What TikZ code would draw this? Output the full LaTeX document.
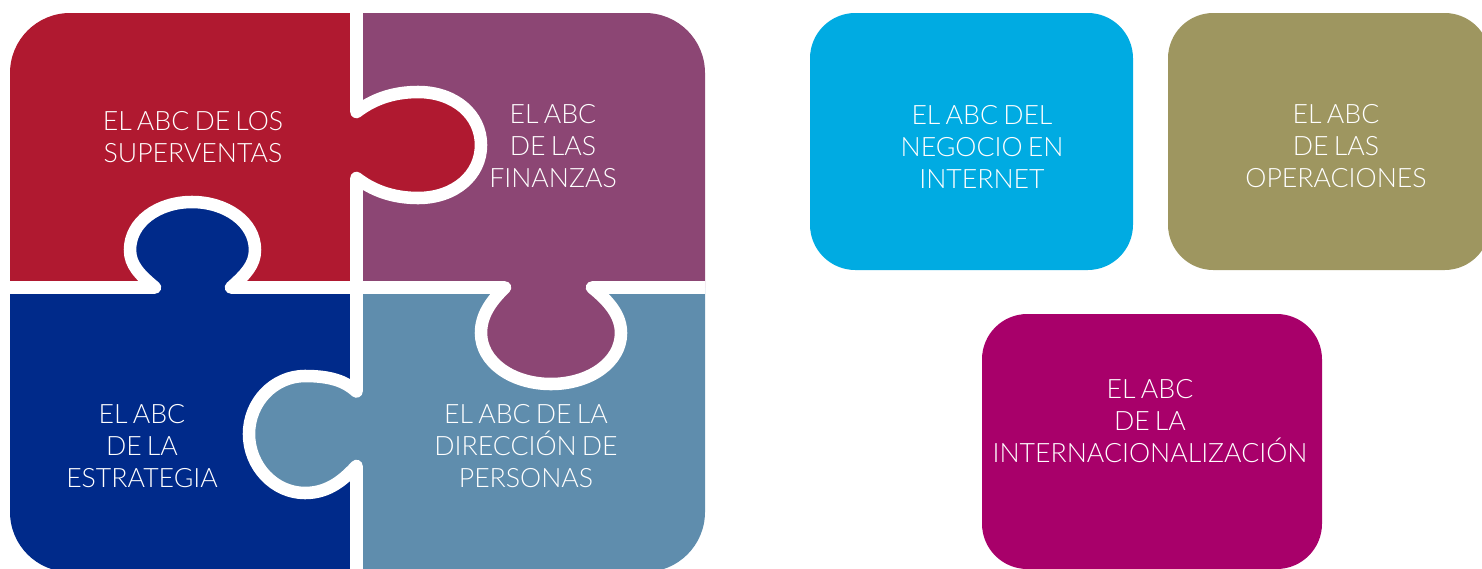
\documentclass[tikz,border=0pt]{standalone}
\usepackage{fontspec}
\setmainfont{Lato}[UprightFont=* Light, WordSpace=0.72]
\definecolor{cRed}{RGB}{176,25,48}
\definecolor{cPurple}{RGB}{140,70,116}
\definecolor{cNavy}{RGB}{0,42,138}
\definecolor{cSteel}{RGB}{95,141,173}
\definecolor{cCyan}{RGB}{0,171,226}
\definecolor{cOlive}{RGB}{158,150,96}
\definecolor{cMagenta}{RGB}{168,0,106}
\newcommand\kRed{.. controls (372,100) and (392,92) .. (418,92) .. controls (455,92) and (481,115) .. (481,145) .. controls (481,175) and (455,198) .. (418,198) .. controls (392,198) and (372,190) .. (356.5,178)}
\newcommand\kNavy{.. controls (140,275) and (130,265) .. (130,250) .. controls (130,222) and (158,202) .. (192,202) .. controls (226,202) and (255,222) .. (255,250) .. controls (255,265) and (245,275) .. (231,287.5)}
\newcommand\kPurple{.. controls (490,302) and (481,316) .. (481,333) .. controls (481,362) and (512,384) .. (551,384) .. controls (590,384) and (621,362) .. (621,333) .. controls (621,316) and (610,302) .. (592,287.5)}
\newcommand\kSteel{.. controls (345,381) and (330,376) .. (305,376) .. controls (274,376) and (249,402) .. (249,434) .. controls (249,466) and (274,493) .. (305,493) .. controls (330,493) and (345,478) .. (356.5,466)}
\begin{document}
\begin{tikzpicture}[x=0.75pt,y=-0.75pt,
  lbl/.style={text=white, align=center, inner sep=0pt, font=\fontsize{20}{24}\selectfont},
  gapline/.style={draw=white, line width=9.4pt, line join=round},
  tile/.style={rounded corners=34pt}]
\useasboundingbox (0,0) rectangle (1482,568);
% puzzle
\begin{scope}
\clip[rounded corners=45pt] (10,13) rectangle (705,572);
\fill[cRed] (0,0) rectangle (356.5,287.5);
\fill[cPurple] (356.5,0) rectangle (720,287.5);
\fill[cNavy] (0,287.5) rectangle (356.5,600);
\fill[cSteel] (356.5,287.5) rectangle (720,600);
\fill[cRed] (356.5,112) \kRed -- (346,178) -- (346,112) -- cycle;
\fill[cNavy] (155,287.5) \kNavy -- (231,298) -- (155,298) -- cycle;
\fill[cPurple] (505,287.5) \kPurple -- (592,277) -- (505,277) -- cycle;
\fill[cSteel] (356.5,391.5) \kSteel -- (367,466) -- (367,391.5) -- cycle;
\path[gapline] (356.5,0) -- (356.5,112) \kRed -- (356.5,391.5) \kSteel -- (356.5,600);
\path[gapline] (0,287.5) -- (155,287.5) \kNavy -- (505,287.5) \kPurple -- (720,287.5);
\end{scope}
\node[lbl] (superventas) at (193,137) {EL ABC DE LOS\\SUPERVENTAS};
\node[lbl] (finanzas) at (553,146) {EL ABC\\DE LAS\\FINANZAS};
\node[lbl] (estrategia) at (142,446) {EL ABC\\DE LA\\ESTRATEGIA};
\node[lbl] (personas) at (526,446) {EL ABC DE LA\\DIRECCIÓN DE\\PERSONAS};
% tiles
\fill[cCyan, tile] (810,13) rectangle (1133,270);
\fill[cOlive, tile] (1168,13) rectangle (1490,270);
\fill[cMagenta, tile] (982,314) rectangle (1322,569);
\node[lbl] (internet) at (982,147) {EL ABC DEL\\NEGOCIO EN\\INTERNET};
\node[lbl] (operaciones) at (1336,146) {EL ABC\\DE LAS\\OPERACIONES};
\node[lbl] (internacional) at (1150,421) {EL ABC\\DE LA\\INTERNACIONALIZACIÓN};
\end{tikzpicture}
\end{document}
